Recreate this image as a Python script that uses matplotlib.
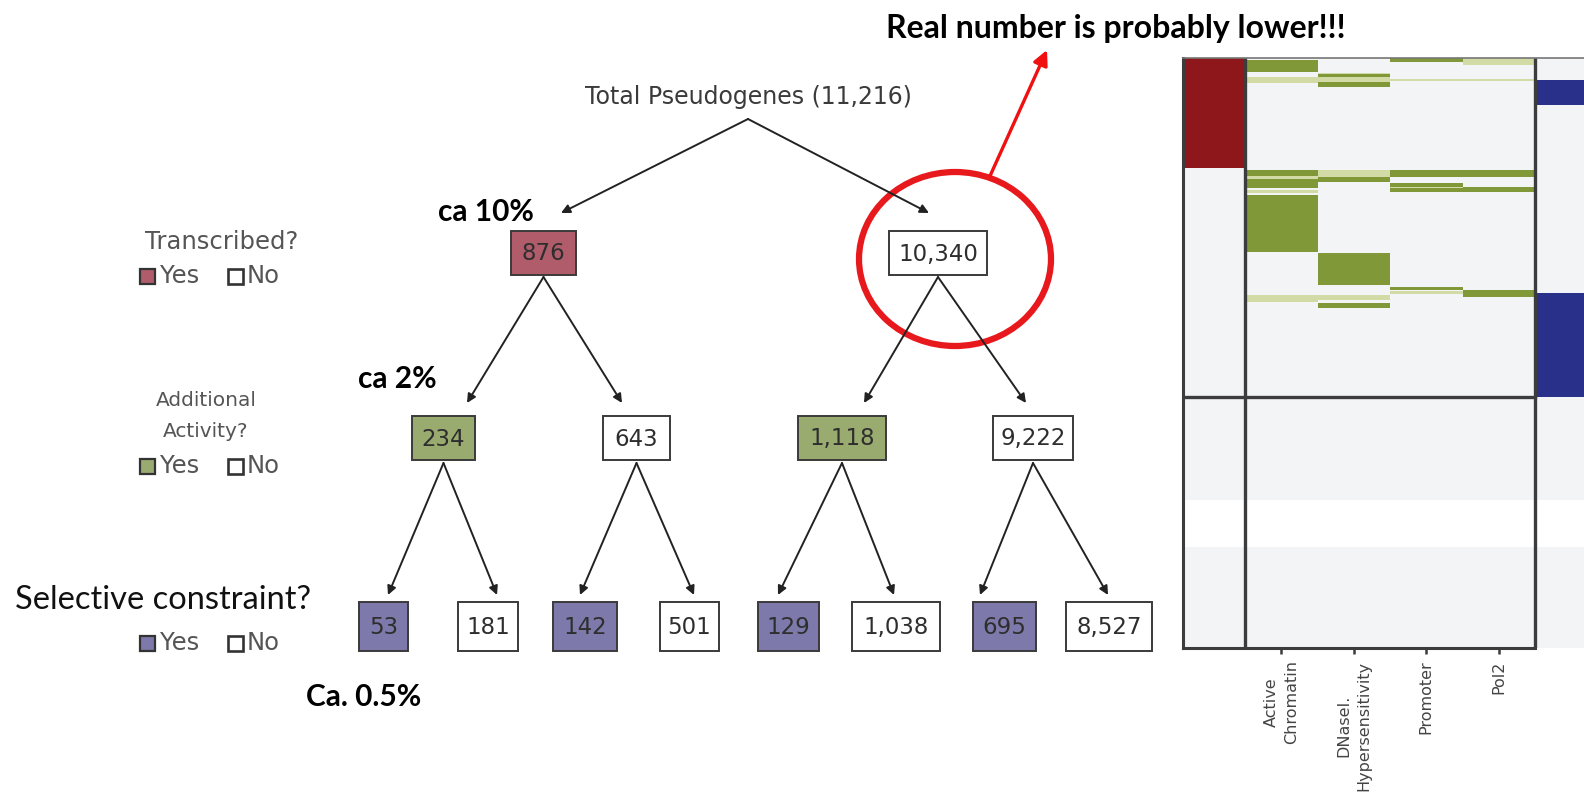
import numpy as np
import matplotlib.pyplot as plt
from matplotlib.patches import Rectangle, Ellipse
from matplotlib.colors import ListedColormap

# tree counts
total_label = 'Total Pseudogenes (11,216)'
level1 = ['876', '10,340']
level2 = ['234', '643', '1,118', '9,222']
level3 = ['53', '181', '142', '501', '129', '1,038', '695', '8,527']
questions = ['Transcribed?', 'Additional\nActivity?', 'Selective constraint?']
notes = ['ca 10%', 'ca 2%', 'Ca. 0.5%']
headline = 'Real number is probably lower!!!'

# heatmap: columns and bands (start row, end row, level) on a 590-row grid
marks = ['Active\nChromatin', 'DNaseI.\nHypersensitivity', 'Promoter', 'Pol2']
# levels: 0 grey, 1 light green, 2 green, 3 red, 4 blue, 5 white
bands = [
    [(0, 110, 3)],
    [(2, 14, 2), (19, 25, 1), (112, 118, 2), (118, 121, 1), (121, 130, 2),
     (132, 135, 1), (137, 194, 2), (237, 244, 1)],
    [(15, 29, 1), (16, 19, 2), (24, 29, 2), (112, 119, 1), (119, 124, 2),
     (195, 227, 2), (237, 242, 1), (245, 250, 2)],
    [(0, 4, 2), (21, 23, 1), (112, 119, 2), (125, 129, 2), (129, 130, 1),
     (130, 134, 2), (229, 232, 2), (233, 236, 1)],
    [(0, 7, 1), (21, 23, 1), (112, 119, 2), (129, 134, 2), (232, 239, 2)],
    [(22, 47, 4), (235, 339, 4)],
]
n_rows = 590
white_rows = (442, 489)
split_row = 339

W, H = 1584, 798
fig = plt.figure(figsize=(W / 100, H / 100), dpi=100)
ax = fig.add_axes([0, 0, 1, 1])
ax.set_xlim(0, W)
ax.set_ylim(H, 0)
ax.axis('off')

txt_col = '#3a3a3a'
leg_col = '#555555'
tree_font = 'DejaVu Sans'
note_font = ['Lato', 'DejaVu Sans']
yes_cols = ['#b05c6b', '#9aab70', '#7d79ab']


def box(xc, yc, w, h, label, fc):
    ax.add_patch(Rectangle((xc - w / 2, yc - h / 2), w, h, fc=fc, ec='#3a3a3a', lw=1.4))
    ax.text(xc, yc + 1, label, ha='center', va='center', fontsize=16.5,
            color='#2e2e2e', family=tree_font)


def arrow(x0, y0, x1, y1, color='#222222', lw=1.4, ms=13):
    ax.annotate('', xy=(x1, y1), xytext=(x0, y0),
                arrowprops=dict(arrowstyle='-|>', color=color, lw=lw,
                                mutation_scale=ms, shrinkA=0, shrinkB=0))


def legend_row(y, fc):
    ax.add_patch(Rectangle((140, y - 7.5), 15, 15, fc=fc, ec='#333333', lw=1.6))
    ax.text(160, y, 'Yes', ha='left', va='center', fontsize=17.5, color=leg_col, family=tree_font)
    ax.add_patch(Rectangle((228, y - 7.5), 15, 15, fc='white', ec='#333333', lw=1.9))
    ax.text(247, y, 'No', ha='left', va='center', fontsize=17.5, color=leg_col, family=tree_font)


# root
ax.text(748, 97, total_label, ha='center', va='center', fontsize=17,
        color=txt_col, family=tree_font)
arrow(748, 119, 561, 213)
arrow(748, 119, 929, 213)

# level 1
l1_x = [543.5, 938]
l1_w = [65, 98]
for i, lab in enumerate(level1):
    box(l1_x[i], 253, l1_w[i], 44, lab, yes_cols[0] if i % 2 == 0 else 'white')

# level 2
l2_x = [443.5, 636.5, 842, 1033]
l2_w = [63, 67, 88, 80]
for i, lab in enumerate(level2):
    box(l2_x[i], 438, l2_w[i], 44, lab, yes_cols[1] if i % 2 == 0 else 'white')
    arrow(l1_x[i // 2], 277, [467, 622, 864, 1026][i], 403)

# level 3
l3_x = [383.5, 488, 585, 689.5, 788.5, 896, 1004.5, 1109]
l3_w = [49, 60, 64, 59, 61, 88, 63, 86]
l3_tip = [388, 497, 580, 694, 778, 894, 980, 1108]
for i, lab in enumerate(level3):
    box(l3_x[i], 626.5, l3_w[i], 49, lab, yes_cols[2] if i % 2 == 0 else 'white')
    arrow(l2_x[i // 2], 463, l3_tip[i], 595)

# question legends
ax.text(222, 242, questions[0], ha='center', va='center', fontsize=17.5, color=leg_col, family=tree_font)
legend_row(276, yes_cols[0])
ax.text(206, 416, questions[1], ha='center', va='center', fontsize=14.5, color=leg_col,
        family=tree_font, linespacing=1.8)
legend_row(466, yes_cols[1])
ax.text(15, 609, questions[2], ha='left', va='baseline', fontsize=23.5, color='#111111', family=note_font)
legend_row(643, yes_cols[2])

# percentage notes
ax.text(486, 221, notes[0], ha='center', va='baseline', fontsize=21.5, weight='bold', family=note_font)
ax.text(397, 388, notes[1], ha='center', va='baseline', fontsize=21.5, weight='bold', family=note_font)
ax.text(364, 706, notes[2], ha='center', va='baseline', fontsize=21.5, weight='bold', family=note_font)

# highlight
ax.add_patch(Ellipse((955, 259), 192, 174, fill=False, ec='#e8191c', lw=4.5))
arrow(990, 176, 1047, 50, color='#f01010', lw=2.4, ms=22)
ax.text(1116, 38, headline, ha='center', va='baseline', fontsize=23, weight='bold', family=note_font)

# heatmap
hx0, hy0, hy1 = 1183, 58, 648
hax = fig.add_axes([hx0 / W, 1 - hy1 / H, (W - hx0) / W, (hy1 - hy0) / H])
col_edges = np.array([0, 62, 134.5, 207, 279.5, 352, 414])
mat = np.zeros((n_rows, len(bands)))
mat[white_rows[0]:white_rows[1], :] = 5
for c, col in enumerate(bands):
    for s, e, lev in col:
        mat[s:e, c] = lev
cmap = ListedColormap(['#f3f4f6', '#d2dba6', '#819838', '#8e171c', '#28308a', '#ffffff'])
hax.pcolormesh(col_edges, np.arange(n_rows + 1), mat, cmap=cmap, vmin=-0.5, vmax=5.5)
hax.set_xlim(0, W - hx0)
hax.set_ylim(n_rows, 0)
line_c = '#3c3c3c'
hax.spines['right'].set_visible(False)
for sp in ['left', 'top', 'bottom']:
    hax.spines[sp].set_color(line_c)
    hax.spines[sp].set_linewidth(2.2)
hax.spines['top'].set_linewidth(1.2)
hax.spines['top'].set_color('#777777')
hax.spines['bottom'].set_bounds(0, 352)
for xv in [62, 352]:
    hax.axvline(xv, color=line_c, lw=2.4)
hax.plot([0, 352], [split_row, split_row], color=line_c, lw=2.4)
centers = (col_edges[1:5] + col_edges[2:6]) / 2
hax.set_xticks(centers)
hax.set_xticklabels(marks, rotation=90, fontsize=11.5, color='#444444', family=tree_font,
                    va='top', ha='center', linespacing=1.45)
hax.tick_params(axis='x', length=4, width=1.8, color=line_c, pad=5)
hax.set_yticks([])

fig.savefig('out.png', dpi=100)
